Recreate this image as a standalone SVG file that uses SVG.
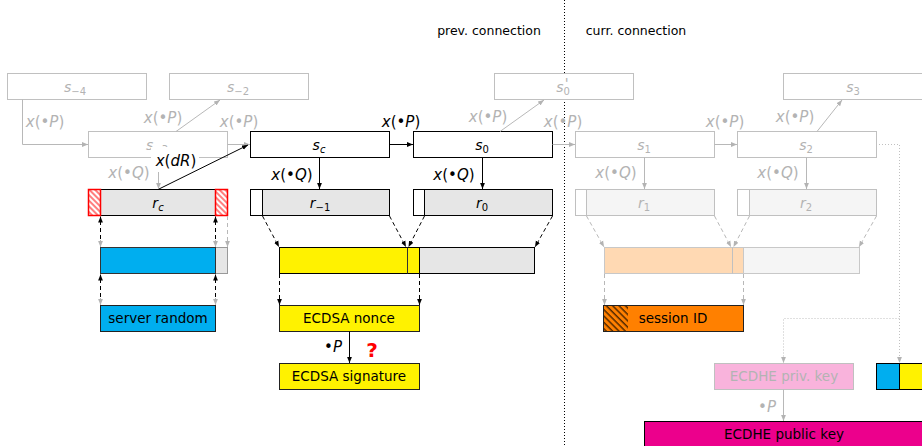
<svg xmlns="http://www.w3.org/2000/svg" width="922" height="446" viewBox="0 0 922 446">
<style>
.bk{fill:#fff;stroke:#000;stroke-width:1}
.gy{fill:#fff;stroke:#c0c0c0;stroke-width:1}
.m{font-family:"DejaVu Sans","Liberation Sans",sans-serif;font-style:italic;font-size:15px;text-anchor:middle}
.n{font-family:"DejaVu Sans","Liberation Sans",sans-serif;font-style:italic;font-size:14px;text-anchor:middle}
.t{font-family:"DejaVu Sans","Liberation Sans",sans-serif;font-size:13.5px;text-anchor:middle}
.h{font-family:"DejaVu Sans","Liberation Sans",sans-serif;font-size:12.5px;text-anchor:middle}
.up{font-style:normal}
.sub{font-size:10px}
.g{fill:#b3b3b3}
.lk{fill:none;stroke:#000;stroke-width:1}
.lg{fill:none;stroke:#b8b8b8;stroke-width:1}
.dk{fill:none;stroke:#000;stroke-width:1;stroke-dasharray:4,3}
.dg{fill:none;stroke:#b8b8b8;stroke-width:1;stroke-dasharray:4,3}
.dot{fill:none;stroke:#c0c0c0;stroke-width:1;stroke-dasharray:1,2}
</style>
<defs>
<marker id="ab" viewBox="0 0 6 6" refX="6" refY="3" markerWidth="6" markerHeight="6" orient="auto-start-reverse" markerUnits="userSpaceOnUse"><path d="M0,0.6 L6,3 L0,5.4 z" fill="#000"/></marker>
<marker id="ag" viewBox="0 0 6 6" refX="6" refY="3" markerWidth="6" markerHeight="6" orient="auto-start-reverse" markerUnits="userSpaceOnUse"><path d="M0,0.6 L6,3 L0,5.4 z" fill="#b3b3b3"/></marker>
<pattern id="hr" patternUnits="userSpaceOnUse" width="4" height="4" patternTransform="rotate(-45)"><rect width="4" height="4" fill="#fff"/><line x1="1" y1="0" x2="1" y2="4" stroke="#ff0000" stroke-width="1"/></pattern>
<pattern id="ho" patternUnits="userSpaceOnUse" width="4.5" height="4.5" patternTransform="rotate(-45)"><rect width="4.5" height="4.5" fill="#ff8000"/><line x1="1" y1="0" x2="1" y2="4.5" stroke="#000" stroke-width="1"/></pattern>
</defs>

<!-- divider and headers -->
<line x1="564.5" y1="0" x2="564.5" y2="446" stroke="#000" stroke-width="1" stroke-dasharray="1,2"/>
<text class="h" x="489" y="35">prev. connection</text>
<text class="h" x="636" y="35">curr. connection</text>

<!-- top row -->
<g id="s_m4"><rect class="gy" x="7.5" y="73.5" width="139" height="26"/><text class="n g" x="75" y="92">s<tspan class="sub up" dy="3">−4</tspan></text></g>
<g id="s_m2"><rect class="gy" x="169.5" y="73.5" width="139" height="26"/><text class="n g" x="238" y="92">s<tspan class="sub up" dy="3">−2</tspan></text></g>
<g id="s0p"><rect class="gy" x="494.5" y="73.5" width="139" height="26"/><text class="n g" x="563" y="92">s<tspan class="sub up" dy="3">0</tspan><tspan font-size="14" dx="-5" dy="-7">'</tspan></text></g>
<g id="s3"><rect class="gy" x="783.5" y="73.5" width="139" height="26"/><text class="n g" x="853" y="92">s<tspan class="sub up" dy="3">3</tspan></text></g>

<!-- middle row -->
<g id="s_m3"><rect class="gy" x="88.5" y="131.5" width="139" height="26"/><text class="n g" x="157" y="150">s<tspan class="sub up" dy="3">−3</tspan></text></g>
<g id="sc"><rect class="bk" x="250.5" y="131.5" width="139" height="26"/><text class="n" x="319" y="150">s<tspan class="sub" dy="3">c</tspan></text></g>
<g id="s0"><rect class="bk" x="413.5" y="131.5" width="139" height="26"/><text class="n" x="482" y="150">s<tspan class="sub up" dy="3">0</tspan></text></g>
<g id="s1"><rect class="gy" x="575.5" y="131.5" width="139" height="26"/><text class="n g" x="644" y="150">s<tspan class="sub up" dy="3">1</tspan></text></g>
<g id="s2"><rect class="gy" x="737.5" y="131.5" width="139" height="26"/><text class="n g" x="806" y="150">s<tspan class="sub up" dy="3">2</tspan></text></g>

<!-- r row -->
<g id="rc">
<rect x="100.5" y="189.5" width="115" height="26" fill="#e6e6e6" stroke="#000"/>
<rect x="88.5" y="189.5" width="12" height="26" fill="url(#hr)" stroke="#ff0000" stroke-width="1.5"/>
<rect x="215.5" y="189.5" width="12" height="26" fill="url(#hr)" stroke="#ff0000" stroke-width="1.5"/>
<text class="n" x="158" y="208">r<tspan class="sub" dy="3">c</tspan></text>
</g>
<g id="r_m1"><rect class="bk" x="250.5" y="189.5" width="139" height="26"/><rect x="262.5" y="189.5" width="127" height="26" fill="#e6e6e6" stroke="#000"/><text class="n" x="320" y="208">r<tspan class="sub up" dy="3">−1</tspan></text></g>
<g id="r0"><rect class="bk" x="413.5" y="189.5" width="139" height="26"/><rect x="424.5" y="189.5" width="128" height="26" fill="#e6e6e6" stroke="#000"/><text class="n" x="482" y="208">r<tspan class="sub up" dy="3">0</tspan></text></g>
<g id="r1"><rect class="gy" x="575.5" y="189.5" width="139" height="26"/><rect x="586.5" y="189.5" width="128" height="26" fill="#f5f5f5" stroke="#c0c0c0"/><text class="n g" x="644" y="208">r<tspan class="sub up" dy="3">1</tspan></text></g>
<g id="r2"><rect class="gy" x="737.5" y="189.5" width="139" height="26"/><rect x="749.5" y="189.5" width="127" height="26" fill="#f5f5f5" stroke="#c0c0c0"/><text class="n g" x="806" y="208">r<tspan class="sub up" dy="3">2</tspan></text></g>

<!-- bars -->
<g id="bar_blue"><rect x="215.5" y="247.5" width="12" height="26" fill="#e6e6e6" stroke="#999"/><rect x="100.5" y="247.5" width="115" height="26" fill="#00aeef" stroke="#333"/></g>
<g id="bar_yellow"><rect x="419.5" y="247.5" width="115" height="26" fill="#e6e6e6" stroke="#000"/><rect x="279.5" y="247.5" width="140" height="26" fill="#fff200" stroke="#000"/><line x1="407.5" y1="247.5" x2="407.5" y2="273.5" stroke="#333"/></g>
<g id="bar_peach"><rect x="743.5" y="247.5" width="116" height="26" fill="#f5f5f5" stroke="#c8c8c8"/><rect x="604.5" y="247.5" width="139" height="26" fill="#ffd9b3" stroke="#c8c8c8"/><line x1="732.5" y1="247.5" x2="732.5" y2="273.5" stroke="#c0c0c0"/></g>

<!-- outputs -->
<g id="server_random"><rect x="100.5" y="305.5" width="115" height="26" fill="#00aeef" stroke="#222"/><text class="t" x="158" y="323">server random</text></g>
<g id="ecdsa_nonce"><rect x="279.5" y="305.5" width="140" height="26" fill="#fff200" stroke="#222"/><text class="t" x="349" y="323">ECDSA nonce</text></g>
<g id="session_id"><rect x="603.5" y="305.5" width="140" height="26" fill="#ff8000" stroke="#222"/><rect x="604" y="306" width="24" height="25" fill="url(#ho)"/><text class="t" x="673" y="323">session ID</text></g>
<g id="ecdsa_sig"><rect x="279.5" y="363.5" width="140" height="26" fill="#fff200" stroke="#222"/><text class="t" x="349" y="381">ECDSA signature</text></g>
<g id="ecdhe_priv"><rect x="714.5" y="363.5" width="139" height="26" fill="#f9b3dc" stroke="#c0c0c0"/><text class="t g" x="784" y="381">ECDHE priv. key</text></g>
<g id="rand_pair"><rect x="876.5" y="363.5" width="23" height="26" fill="#00aeef" stroke="#000"/><rect x="899.5" y="363.5" width="30" height="26" fill="#fff200" stroke="#000"/></g>
<g id="ecdhe_pub"><rect x="644.5" y="421.5" width="290" height="30" fill="#ec008c" stroke="#000"/><text class="t" x="784" y="439">ECDHE public key</text></g>

<!-- connectors -->
<g id="connectors">
<path class="lg" d="M22.5,99.5 V144.5 H88" marker-end="url(#ag)"/>
<path class="lg" d="M176,131.5 L220,100" marker-end="url(#ag)"/>
<path class="lg" d="M227.5,144.5 H250" marker-end="url(#ag)"/>
<path class="lg" d="M158.5,157.5 V189" marker-end="url(#ag)"/>
<path class="lk" d="M389.5,144.5 H413" marker-end="url(#ab)"/>
<path class="lk" d="M319.5,157.5 V189" marker-end="url(#ab)"/>
<path class="lg" d="M500,131.5 L544,100" marker-end="url(#ag)"/>
<path class="lg" d="M552.5,144.5 H575" marker-end="url(#ag)"/>
<path class="lk" d="M482.5,157.5 V189" marker-end="url(#ab)"/>
<path class="lg" d="M644.5,157.5 V189" marker-end="url(#ag)"/>
<path class="lg" d="M714.5,144.5 H737" marker-end="url(#ag)"/>
<path class="lg" d="M817,131.5 L842,100" marker-end="url(#ag)"/>
<path class="lg" d="M806.5,157.5 V189" marker-end="url(#ag)"/>
<path class="dot" d="M879,144.5 H899.5 V363" marker-end="url(#ag)"/>
<path class="dot" d="M899.5,318.5 H783.5 V363" marker-end="url(#ag)"/>
<path class="lg" d="M783.5,389.5 V421" marker-end="url(#ag)"/>
<path class="lk" d="M349.5,331.5 V363" marker-end="url(#ab)"/>

<!-- rc <-> blue bar -->
<path class="dk" d="M100.5,246 V216.5" marker-end="url(#ab)"/>
<path class="dk" d="M215.5,246 V216.5" marker-end="url(#ab)"/>
<path d="M100.5,240 V247" class="lg" marker-end="url(#ag)"/>
<path d="M215.5,240 V247" class="lg" marker-end="url(#ag)"/>
<path class="dg" d="M227.5,216 V247" marker-end="url(#ag)"/>
<path class="dk" d="M100.5,304 V274.5" marker-end="url(#ab)"/>
<path class="dk" d="M215.5,304 V274.5" marker-end="url(#ab)"/>
<path d="M100.5,298 V305" class="lg" marker-end="url(#ag)"/>
<path d="M215.5,298 V305" class="lg" marker-end="url(#ag)"/>

<!-- r to yellow bar -->
<path class="dk" d="M262.5,216 L279,247" marker-end="url(#ab)"/>
<path class="dk" d="M389.5,216 L406,247" marker-end="url(#ab)"/>
<path class="dk" d="M424.5,216 L408.5,247" marker-end="url(#ab)"/>
<path class="dk" d="M552.5,216 L535,247" marker-end="url(#ab)"/>
<path class="dk" d="M279.5,274 V305" marker-end="url(#ab)"/>
<path class="dk" d="M419.5,274 V305" marker-end="url(#ab)"/>

<!-- r to peach bar -->
<path class="dg" d="M586.5,216 L604,247" marker-end="url(#ag)"/>
<path class="dg" d="M714.5,216 L731,247" marker-end="url(#ag)"/>
<path class="dg" d="M749.5,216 L733.5,247" marker-end="url(#ag)"/>
<path class="dg" d="M876.5,216 L859,247" marker-end="url(#ag)"/>
<path class="dg" d="M604.5,274 V305" marker-end="url(#ag)"/>
<path class="dg" d="M743.5,274 V305" marker-end="url(#ag)"/>

<!-- x(dR) -->
<rect x="151" y="147" width="48" height="25" fill="#fff"/>
<path class="lk" d="M159,189 L248,145" marker-end="url(#ab)"/>
</g>

<!-- labels -->
<text class="m g" x="45" y="127">x<tspan class="up">(•</tspan>P<tspan class="up">)</tspan></text>
<text class="m g" x="163" y="123">x<tspan class="up">(•</tspan>P<tspan class="up">)</tspan></text>
<text class="m g" x="239" y="127">x<tspan class="up">(•</tspan>P<tspan class="up">)</tspan></text>
<text class="m g" x="129" y="178">x<tspan class="up">(•</tspan>Q<tspan class="up">)</tspan></text>
<text class="m" x="176" y="166">x<tspan class="up">(</tspan>dR<tspan class="up">)</tspan></text>
<text class="m" x="401" y="127">x<tspan class="up">(•</tspan>P<tspan class="up">)</tspan></text>
<text class="m" x="292" y="180">x<tspan class="up">(•</tspan>Q<tspan class="up">)</tspan></text>
<text class="m" x="454" y="180">x<tspan class="up">(•</tspan>Q<tspan class="up">)</tspan></text>
<text class="m g" x="488" y="122">x<tspan class="up">(•</tspan>P<tspan class="up">)</tspan></text>
<text class="m g" x="563" y="127">x<tspan class="up">(•</tspan>P<tspan class="up">)</tspan></text>
<text class="m g" x="725" y="127">x<tspan class="up">(•</tspan>P<tspan class="up">)</tspan></text>
<text class="m g" x="795" y="122">x<tspan class="up">(•</tspan>P<tspan class="up">)</tspan></text>
<text class="m g" x="616" y="178">x<tspan class="up">(•</tspan>Q<tspan class="up">)</tspan></text>
<text class="m g" x="778" y="178">x<tspan class="up">(•</tspan>Q<tspan class="up">)</tspan></text>
<text class="m" x="333" y="352"><tspan class="up">•</tspan>P</text>
<text class="m g" x="767" y="412"><tspan class="up">•</tspan>P</text>
<text x="372" y="357" font-family="DejaVu Sans, sans-serif" font-size="20" font-weight="bold" fill="#ff0000" text-anchor="middle">?</text>
</svg>
